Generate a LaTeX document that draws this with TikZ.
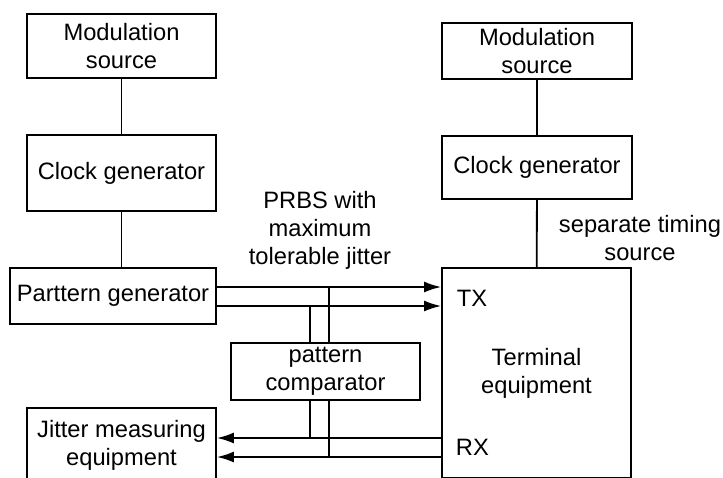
\documentclass[tikz,border=0pt]{standalone}
\usepackage{fontspec}
\setmainfont{Liberation Sans}
\usepackage{tikz}
\usetikzlibrary{arrows.meta}

\begin{document}
\begin{tikzpicture}[x=0.5pt, y=-0.5pt, line width=0.9pt,
    every node/.style={font=\fontsize{11.85}{14}\selectfont},
    blk/.style={rectangle, draw, inner sep=0pt, align=center},
    sig/.style={-{Latex[length=8.5pt, width=5.5pt]}}]
    \useasboundingbox (0,0) rectangle (723,477);
    \clip (0,0) rectangle (723,477);

    % Test set side
    \node (modA) [blk, minimum width=94.5pt, minimum height=32pt] at (121.5,46) {Modulation\\source};
    \node (clkA) [blk, minimum width=94.5pt, minimum height=38pt] at (121.5,173) {Clock generator};
    \node (patgen) [blk, minimum width=103pt, minimum height=28pt] at (113,296) {Parttern generator};
    \node (jitter) [blk, minimum width=94.5pt, minimum height=37pt] at (121.5,445) {Jitter measuring\\equipment};
    \node (comp) [blk, minimum width=94.5pt, minimum height=28.5pt] at (325.5,371.5) {pattern\\comparator};
    \node (prbs) [align=center] at (320,230) {PRBS with\\maximum\\tolerable jitter};

    % Equipment side
    \node (modB) [blk, minimum width=95pt, minimum height=28pt] at (537,51) {Modulation\\source};
    \node (clkB) [blk, minimum width=95pt, minimum height=31.5pt] at (537,167.5) {Clock generator};
    \node (term) [blk, minimum width=94.5pt, minimum height=105pt] at (536.5,373) {Terminal\\equipment};
    \node (timing) [align=center] at (640,238) {separate timing\\source};
    \node (tx) [anchor=west, inner sep=0pt] at (456,298) {TX};
    \node (rx) [anchor=west, inner sep=0pt] at (455,447) {RX};

    % Signal rows
    \coordinate (txa) at (0,287);
    \coordinate (txb) at (0,306);
    \coordinate (rxa) at (0,438);
    \coordinate (rxb) at (0,457);
    \coordinate (tapa) at (310,0);
    \coordinate (tapb) at (329,0);

    % Connections
    \draw (modA) -- (clkA);
    \draw (clkA.south) -- (clkA.south |- patgen.north);
    \draw (modB) -- (clkB);
    \draw (clkB) -- (term);
    \draw[sig] (patgen.east |- txa) -- (term.west |- txa);
    \draw[sig] (patgen.east |- txb) -- (term.west |- txb);
    \draw[sig] (term.west |- rxa) -- (jitter.east |- rxa);
    \draw[sig] (term.west |- rxb) -- (jitter.east |- rxb);
    \draw (tapb |- txa) -- (tapb |- comp.north);
    \draw (tapa |- txb) -- (tapa |- comp.north);
    \draw (tapa |- comp.south) -- (tapa |- rxa);
    \draw (tapb |- comp.south) -- (tapb |- rxb);
\end{tikzpicture}
\end{document}
